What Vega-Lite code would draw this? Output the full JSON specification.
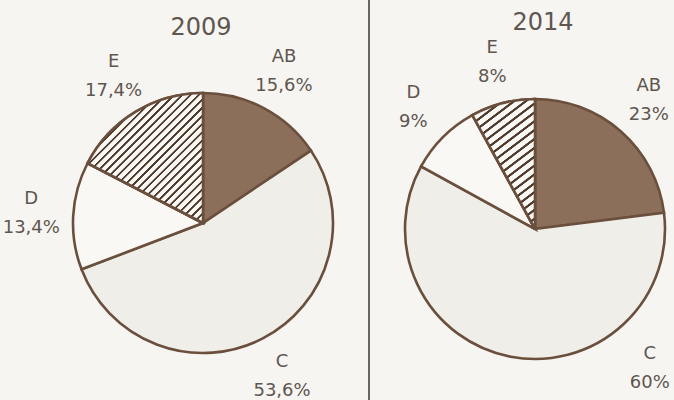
{
  "$schema": "https://vega.github.io/schema/vega-lite/v6.json",
  "width": 674,
  "height": 400,
  "padding": 0,
  "autosize": {"type": "none"},
  "background": "#f6f5f1",
  "config": {
    "view": {"stroke": null},
    "text": {"font": "DejaVu Sans", "color": "#5f5650"},
    "locale": {"number": {"decimal": ",", "thousands": ".", "grouping": [3], "currency": ["", "%"]}}
  },
  "data": {
    "values": [
      {"year": "2009", "cat": "AB", "pct": 15.6},
      {"year": "2009", "cat": "C", "pct": 53.6},
      {"year": "2009", "cat": "D", "pct": 13.4},
      {"year": "2009", "cat": "E", "pct": 17.4},
      {"year": "2014", "cat": "AB", "pct": 23},
      {"year": "2014", "cat": "C", "pct": 60},
      {"year": "2014", "cat": "D", "pct": 9},
      {"year": "2014", "cat": "E", "pct": 8}
    ]
  },
  "layer": [
    {
      "transform": [{"aggregate": [{"op": "count", "as": "n"}]}],
      "mark": {"type": "rule", "color": "#5d5650", "strokeWidth": 1.8},
      "encoding": {
        "x": {"datum": "|", "type": "nominal", "scale": {"type": "point", "domain": ["2009", "|", "2014"], "range": [203, 535], "padding": 0}, "axis": null}
      }
    },
    {
      "transform": [{"stack": "pct", "groupby": ["year"], "sort": [{"field": "cat", "order": "ascending"}], "as": ["s", "e"]}],
      "encoding": {
        "x": {"field": "year", "type": "nominal", "scale": {"type": "point", "domain": ["2009", "|", "2014"], "range": [203, 535], "padding": 0}, "axis": null},
        "y": {"field": "year", "type": "nominal", "scale": {"type": "point", "domain": ["2009", "2014"], "range": [223, 229], "padding": 0}, "axis": null},
        "theta": {"field": "s", "type": "quantitative", "stack": null, "scale": {"domain": [0, 100], "range": [0, 6.283185]}},
        "theta2": {"field": "e"}
      },
      "layer": [
        {
          "mark": {"type": "arc", "radius": 130, "stroke": "#6b4f3d", "strokeWidth": 2.6},
          "encoding": {
            "fill": {"field": "cat", "type": "nominal", "scale": {"domain": ["AB", "C", "D", "E"], "range": ["#8b6f5b", "#efeee9", "#f9f8f5", "#f9f8f5"]}, "legend": null}
          }
        },
        {
          "transform": [{"filter": "datum.cat === 'E' && datum.year === '2009'"}],
          "mark": {
            "type": "arc", "radius": 130, "stroke": "#6b4f3d", "strokeWidth": 2.6,
            "fill": {
              "gradient": "linear", "x1": 0, "y1": 0, "x2": 0.936, "y2": 1.057,
              "stops": [
                {"offset": 0, "color": "#f9f8f5"},
                {"offset": 0.02, "color": "#f9f8f5"}, {"offset": 0.0227, "color": "#4f3a2c"}, {"offset": 0.0307, "color": "#4f3a2c"}, {"offset": 0.0333, "color": "#f9f8f5"},
                {"offset": 0.0533, "color": "#f9f8f5"}, {"offset": 0.056, "color": "#4f3a2c"}, {"offset": 0.064, "color": "#4f3a2c"}, {"offset": 0.0667, "color": "#f9f8f5"},
                {"offset": 0.0867, "color": "#f9f8f5"}, {"offset": 0.0893, "color": "#4f3a2c"}, {"offset": 0.0973, "color": "#4f3a2c"}, {"offset": 0.1, "color": "#f9f8f5"},
                {"offset": 0.12, "color": "#f9f8f5"}, {"offset": 0.1227, "color": "#4f3a2c"}, {"offset": 0.1307, "color": "#4f3a2c"}, {"offset": 0.1333, "color": "#f9f8f5"},
                {"offset": 0.1533, "color": "#f9f8f5"}, {"offset": 0.156, "color": "#4f3a2c"}, {"offset": 0.164, "color": "#4f3a2c"}, {"offset": 0.1667, "color": "#f9f8f5"},
                {"offset": 0.1867, "color": "#f9f8f5"}, {"offset": 0.1893, "color": "#4f3a2c"}, {"offset": 0.1973, "color": "#4f3a2c"}, {"offset": 0.2, "color": "#f9f8f5"},
                {"offset": 0.22, "color": "#f9f8f5"}, {"offset": 0.2227, "color": "#4f3a2c"}, {"offset": 0.2307, "color": "#4f3a2c"}, {"offset": 0.2333, "color": "#f9f8f5"},
                {"offset": 0.2533, "color": "#f9f8f5"}, {"offset": 0.256, "color": "#4f3a2c"}, {"offset": 0.264, "color": "#4f3a2c"}, {"offset": 0.2667, "color": "#f9f8f5"},
                {"offset": 0.2867, "color": "#f9f8f5"}, {"offset": 0.2893, "color": "#4f3a2c"}, {"offset": 0.2973, "color": "#4f3a2c"}, {"offset": 0.3, "color": "#f9f8f5"},
                {"offset": 0.32, "color": "#f9f8f5"}, {"offset": 0.3227, "color": "#4f3a2c"}, {"offset": 0.3307, "color": "#4f3a2c"}, {"offset": 0.3333, "color": "#f9f8f5"},
                {"offset": 0.3533, "color": "#f9f8f5"}, {"offset": 0.356, "color": "#4f3a2c"}, {"offset": 0.364, "color": "#4f3a2c"}, {"offset": 0.3667, "color": "#f9f8f5"},
                {"offset": 0.3867, "color": "#f9f8f5"}, {"offset": 0.3893, "color": "#4f3a2c"}, {"offset": 0.3973, "color": "#4f3a2c"}, {"offset": 0.4, "color": "#f9f8f5"},
                {"offset": 0.42, "color": "#f9f8f5"}, {"offset": 0.4227, "color": "#4f3a2c"}, {"offset": 0.4307, "color": "#4f3a2c"}, {"offset": 0.4333, "color": "#f9f8f5"},
                {"offset": 0.4533, "color": "#f9f8f5"}, {"offset": 0.456, "color": "#4f3a2c"}, {"offset": 0.464, "color": "#4f3a2c"}, {"offset": 0.4667, "color": "#f9f8f5"},
                {"offset": 0.4867, "color": "#f9f8f5"}, {"offset": 0.4893, "color": "#4f3a2c"}, {"offset": 0.4973, "color": "#4f3a2c"}, {"offset": 0.5, "color": "#f9f8f5"},
                {"offset": 0.52, "color": "#f9f8f5"}, {"offset": 0.5227, "color": "#4f3a2c"}, {"offset": 0.5307, "color": "#4f3a2c"}, {"offset": 0.5333, "color": "#f9f8f5"},
                {"offset": 0.5533, "color": "#f9f8f5"}, {"offset": 0.556, "color": "#4f3a2c"}, {"offset": 0.564, "color": "#4f3a2c"}, {"offset": 0.5667, "color": "#f9f8f5"},
                {"offset": 0.5867, "color": "#f9f8f5"}, {"offset": 0.5893, "color": "#4f3a2c"}, {"offset": 0.5973, "color": "#4f3a2c"}, {"offset": 0.6, "color": "#f9f8f5"},
                {"offset": 0.62, "color": "#f9f8f5"}, {"offset": 0.6227, "color": "#4f3a2c"}, {"offset": 0.6307, "color": "#4f3a2c"}, {"offset": 0.6333, "color": "#f9f8f5"},
                {"offset": 0.6533, "color": "#f9f8f5"}, {"offset": 0.656, "color": "#4f3a2c"}, {"offset": 0.664, "color": "#4f3a2c"}, {"offset": 0.6667, "color": "#f9f8f5"},
                {"offset": 0.6867, "color": "#f9f8f5"}, {"offset": 0.6893, "color": "#4f3a2c"}, {"offset": 0.6973, "color": "#4f3a2c"}, {"offset": 0.7, "color": "#f9f8f5"},
                {"offset": 0.72, "color": "#f9f8f5"}, {"offset": 0.7227, "color": "#4f3a2c"}, {"offset": 0.7307, "color": "#4f3a2c"}, {"offset": 0.7333, "color": "#f9f8f5"},
                {"offset": 0.7533, "color": "#f9f8f5"}, {"offset": 0.756, "color": "#4f3a2c"}, {"offset": 0.764, "color": "#4f3a2c"}, {"offset": 0.7667, "color": "#f9f8f5"},
                {"offset": 0.7867, "color": "#f9f8f5"}, {"offset": 0.7893, "color": "#4f3a2c"}, {"offset": 0.7973, "color": "#4f3a2c"}, {"offset": 0.8, "color": "#f9f8f5"},
                {"offset": 0.82, "color": "#f9f8f5"}, {"offset": 0.8227, "color": "#4f3a2c"}, {"offset": 0.8307, "color": "#4f3a2c"}, {"offset": 0.8333, "color": "#f9f8f5"},
                {"offset": 0.8533, "color": "#f9f8f5"}, {"offset": 0.856, "color": "#4f3a2c"}, {"offset": 0.864, "color": "#4f3a2c"}, {"offset": 0.8667, "color": "#f9f8f5"},
                {"offset": 0.8867, "color": "#f9f8f5"}, {"offset": 0.8893, "color": "#4f3a2c"}, {"offset": 0.8973, "color": "#4f3a2c"}, {"offset": 0.9, "color": "#f9f8f5"},
                {"offset": 0.92, "color": "#f9f8f5"}, {"offset": 0.9227, "color": "#4f3a2c"}, {"offset": 0.9307, "color": "#4f3a2c"}, {"offset": 0.9333, "color": "#f9f8f5"},
                {"offset": 0.9533, "color": "#f9f8f5"}, {"offset": 0.956, "color": "#4f3a2c"}, {"offset": 0.964, "color": "#4f3a2c"}, {"offset": 0.9667, "color": "#f9f8f5"},
                {"offset": 0.9867, "color": "#f9f8f5"}, {"offset": 0.9893, "color": "#4f3a2c"}, {"offset": 0.9973, "color": "#4f3a2c"}, {"offset": 1, "color": "#f9f8f5"}
              ]
            }
          }
        },
        {
          "transform": [{"filter": "datum.cat === 'E' && datum.year === '2014'"}],
          "mark": {
            "type": "arc", "radius": 130, "stroke": "#6b4f3d", "strokeWidth": 2.6,
            "fill": {
              "gradient": "linear", "x1": 0, "y1": 0, "x2": 0.438, "y2": 1.204,
              "stops": [
                {"offset": 0, "color": "#f9f8f5"},
                {"offset": 0.03, "color": "#f9f8f5"}, {"offset": 0.034, "color": "#4f3a2c"}, {"offset": 0.046, "color": "#4f3a2c"}, {"offset": 0.05, "color": "#f9f8f5"},
                {"offset": 0.08, "color": "#f9f8f5"}, {"offset": 0.084, "color": "#4f3a2c"}, {"offset": 0.096, "color": "#4f3a2c"}, {"offset": 0.1, "color": "#f9f8f5"},
                {"offset": 0.13, "color": "#f9f8f5"}, {"offset": 0.134, "color": "#4f3a2c"}, {"offset": 0.146, "color": "#4f3a2c"}, {"offset": 0.15, "color": "#f9f8f5"},
                {"offset": 0.18, "color": "#f9f8f5"}, {"offset": 0.184, "color": "#4f3a2c"}, {"offset": 0.196, "color": "#4f3a2c"}, {"offset": 0.2, "color": "#f9f8f5"},
                {"offset": 0.23, "color": "#f9f8f5"}, {"offset": 0.234, "color": "#4f3a2c"}, {"offset": 0.246, "color": "#4f3a2c"}, {"offset": 0.25, "color": "#f9f8f5"},
                {"offset": 0.28, "color": "#f9f8f5"}, {"offset": 0.284, "color": "#4f3a2c"}, {"offset": 0.296, "color": "#4f3a2c"}, {"offset": 0.3, "color": "#f9f8f5"},
                {"offset": 0.33, "color": "#f9f8f5"}, {"offset": 0.334, "color": "#4f3a2c"}, {"offset": 0.346, "color": "#4f3a2c"}, {"offset": 0.35, "color": "#f9f8f5"},
                {"offset": 0.38, "color": "#f9f8f5"}, {"offset": 0.384, "color": "#4f3a2c"}, {"offset": 0.396, "color": "#4f3a2c"}, {"offset": 0.4, "color": "#f9f8f5"},
                {"offset": 0.43, "color": "#f9f8f5"}, {"offset": 0.434, "color": "#4f3a2c"}, {"offset": 0.446, "color": "#4f3a2c"}, {"offset": 0.45, "color": "#f9f8f5"},
                {"offset": 0.48, "color": "#f9f8f5"}, {"offset": 0.484, "color": "#4f3a2c"}, {"offset": 0.496, "color": "#4f3a2c"}, {"offset": 0.5, "color": "#f9f8f5"},
                {"offset": 0.53, "color": "#f9f8f5"}, {"offset": 0.534, "color": "#4f3a2c"}, {"offset": 0.546, "color": "#4f3a2c"}, {"offset": 0.55, "color": "#f9f8f5"},
                {"offset": 0.58, "color": "#f9f8f5"}, {"offset": 0.584, "color": "#4f3a2c"}, {"offset": 0.596, "color": "#4f3a2c"}, {"offset": 0.6, "color": "#f9f8f5"},
                {"offset": 0.63, "color": "#f9f8f5"}, {"offset": 0.634, "color": "#4f3a2c"}, {"offset": 0.646, "color": "#4f3a2c"}, {"offset": 0.65, "color": "#f9f8f5"},
                {"offset": 0.68, "color": "#f9f8f5"}, {"offset": 0.684, "color": "#4f3a2c"}, {"offset": 0.696, "color": "#4f3a2c"}, {"offset": 0.7, "color": "#f9f8f5"},
                {"offset": 0.73, "color": "#f9f8f5"}, {"offset": 0.734, "color": "#4f3a2c"}, {"offset": 0.746, "color": "#4f3a2c"}, {"offset": 0.75, "color": "#f9f8f5"},
                {"offset": 0.78, "color": "#f9f8f5"}, {"offset": 0.784, "color": "#4f3a2c"}, {"offset": 0.796, "color": "#4f3a2c"}, {"offset": 0.8, "color": "#f9f8f5"},
                {"offset": 0.83, "color": "#f9f8f5"}, {"offset": 0.834, "color": "#4f3a2c"}, {"offset": 0.846, "color": "#4f3a2c"}, {"offset": 0.85, "color": "#f9f8f5"},
                {"offset": 0.88, "color": "#f9f8f5"}, {"offset": 0.884, "color": "#4f3a2c"}, {"offset": 0.896, "color": "#4f3a2c"}, {"offset": 0.9, "color": "#f9f8f5"},
                {"offset": 0.93, "color": "#f9f8f5"}, {"offset": 0.934, "color": "#4f3a2c"}, {"offset": 0.946, "color": "#4f3a2c"}, {"offset": 0.95, "color": "#f9f8f5"},
                {"offset": 0.98, "color": "#f9f8f5"}, {"offset": 0.984, "color": "#4f3a2c"}, {"offset": 0.996, "color": "#4f3a2c"}, {"offset": 1, "color": "#f9f8f5"}
              ]
            }
          }
        }
      ]
    },
    {
      "transform": [
        {"stack": "pct", "groupby": ["year"], "sort": [{"field": "cat", "order": "ascending"}], "as": ["s", "e"]},
        {"fold": ["s", "e"], "as": ["k", "v"]},
        {"aggregate": [{"op": "mean", "field": "v", "as": "mid"}], "groupby": ["year", "cat", "pct"]}
      ],
      "encoding": {
        "x": {"field": "year", "type": "nominal", "scale": {"type": "point", "domain": ["2009", "|", "2014"], "range": [203, 535], "padding": 0}, "axis": null},
        "y": {"field": "year", "type": "nominal", "scale": {"type": "point", "domain": ["2009", "2014"], "range": [223, 229], "padding": 0}, "axis": null}
      },
      "layer": [
        {
          "transform": [{"filter": "!(datum.year === '2014' && datum.cat === 'C')"}],
          "mark": {"type": "text", "radius": 172, "dy": -14, "fontSize": 18},
          "encoding": {
            "theta": {"field": "mid", "type": "quantitative", "scale": {"domain": [0, 100], "range": [0, 6.283185]}},
            "text": {"field": "cat", "type": "nominal"}
          }
        },
        {
          "transform": [{"filter": "!(datum.year === '2014' && datum.cat === 'C')"}],
          "mark": {"type": "text", "radius": 172, "dy": 15, "fontSize": 18},
          "encoding": {
            "theta": {"field": "mid", "type": "quantitative", "scale": {"domain": [0, 100], "range": [0, 6.283185]}},
            "text": {"field": "pct", "type": "quantitative", "format": "$.3~r"}
          }
        },
        {
          "transform": [{"filter": "datum.year === '2014' && datum.cat === 'C'"}],
          "mark": {"type": "text", "radius": 180, "theta": 2.45, "dy": -14, "fontSize": 18},
          "encoding": {
            "text": {"field": "cat", "type": "nominal"}
          }
        },
        {
          "transform": [{"filter": "datum.year === '2014' && datum.cat === 'C'"}],
          "mark": {"type": "text", "radius": 180, "theta": 2.45, "dy": 15, "fontSize": 18},
          "encoding": {
            "text": {"field": "pct", "type": "quantitative", "format": "$.3~r"}
          }
        }
      ]
    },
    {
      "transform": [{"aggregate": [{"op": "count", "as": "n"}], "groupby": ["year"]}],
      "encoding": {
        "x": {"field": "year", "type": "nominal", "scale": {"type": "point", "domain": ["2009", "|", "2014"], "range": [203, 535], "padding": 0}, "axis": null},
        "y": {"field": "year", "type": "nominal", "scale": {"type": "point", "domain": ["2009", "2014"], "range": [223, 229], "padding": 0}, "axis": null},
        "text": {"field": "year", "type": "nominal"}
      },
      "layer": [
        {
          "transform": [{"filter": "datum.year === '2009'"}],
          "mark": {"type": "text", "fontSize": 24, "dx": -2, "dy": -195}
        },
        {
          "transform": [{"filter": "datum.year === '2014'"}],
          "mark": {"type": "text", "fontSize": 24, "dx": 8, "dy": -206}
        }
      ]
    }
  ]
}
